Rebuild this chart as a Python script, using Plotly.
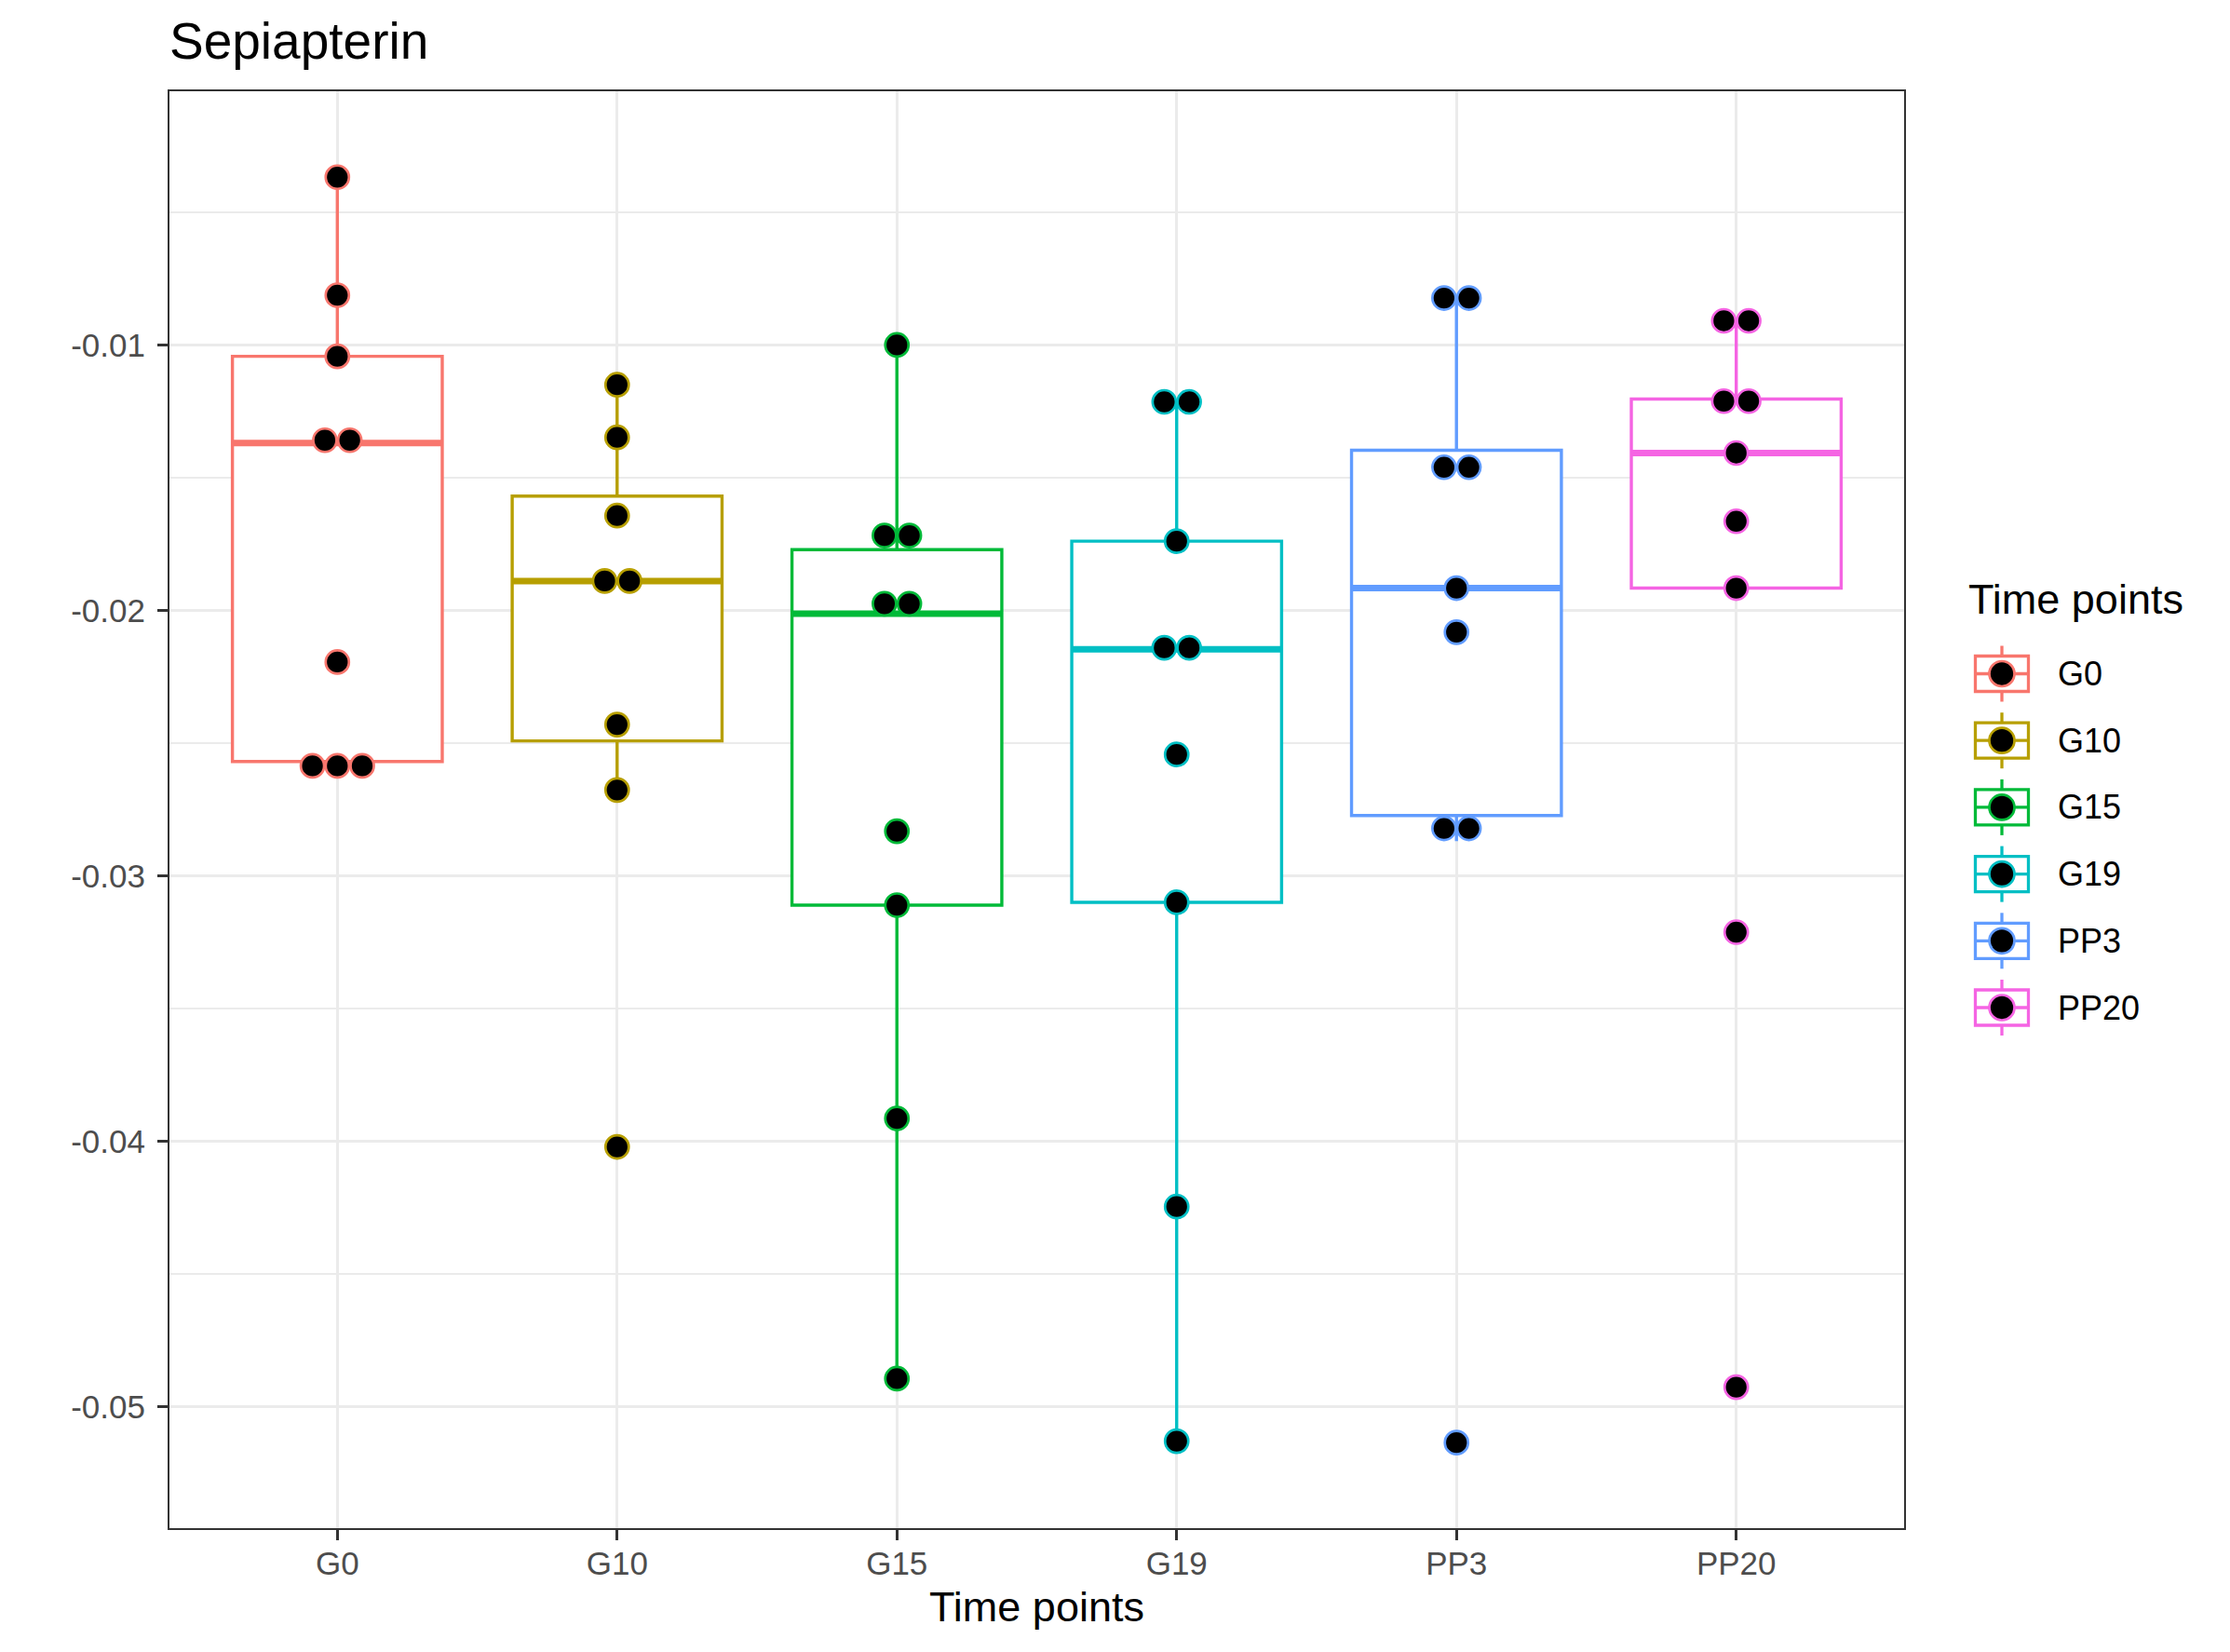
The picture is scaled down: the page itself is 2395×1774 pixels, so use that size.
import numpy as np
import plotly.graph_objects as go

# ---------------- data ----------------
categories = ["G0", "G10", "G15", "G19", "PP3", "PP20"]
colors = ["#F8766D", "#B79F00", "#00BA38", "#00BFC4", "#619CFF", "#F564E3"]

g0 = [-0.003681, -0.008126, -0.010428, -0.013481, -0.013695, -0.021941, -0.025690, -0.025850, -0.026011]
g10 = [-0.011499, -0.013481, -0.016426, -0.018782, -0.018996, -0.024297, -0.026761, -0.040201]
g15 = [-0.010000, -0.016640, -0.017711, -0.019371, -0.020121, -0.028313, -0.031098, -0.039130, -0.048929]
g19 = [-0.012088, -0.012195, -0.017390, -0.021352, -0.021459, -0.025422, -0.030991, -0.042450, -0.051285]
pp3 = [-0.008179, -0.008286, -0.013963, -0.015248, -0.019157, -0.020817, -0.027724, -0.028688, -0.051339]
pp20 = [-0.009036, -0.009143, -0.012035, -0.012195, -0.014070, -0.016640, -0.019157, -0.032115, -0.049251]
series = [g0, g10, g15, g19, pp3, pp20]

y_tickvals = [-0.05, -0.04, -0.03, -0.02, -0.01]
y_ticktext = ["-0.05", "-0.04", "-0.03", "-0.02", "-0.01"]

title_text = "Sepiapterin"
x_title = "Time points"
legend_title = "Time points"

# ---------------- layout geometry ----------------
OFF = 8  # page body margin offset
W, H = 2395 - OFF, 1774 - OFF
PW, PH = 1863, 1543
ML, MT = 182 - OFF, 98 - OFF
MR, MB = W - ML - PW, H - MT - PH
FONT = "Liberation Sans, Arial, Helvetica, sans-serif"

BOX_W = 0.75
DOT_STEP = 0.0889  # horizontal stacking step (x units) = dot diameter

all_vals = np.concatenate([np.array(s) for s in series])
binwidth = (all_vals.max() - all_vals.min()) / 30.0


def dotdensity(vals, bw):
    """ggplot2-style dotdensity binning: returns list of (center, count)."""
    v = np.sort(np.array(vals))
    bins = []
    cur = []
    binend = -np.inf
    for x in v:
        if x >= binend:
            if cur:
                bins.append(cur)
            cur = [x]
            binend = x + bw
        else:
            cur.append(x)
    if cur:
        bins.append(cur)
    return [((min(b) + max(b)) / 2.0, len(b)) for b in bins]


fig = go.Figure()

# boxes
for i, (cat, vals, col) in enumerate(zip(categories, series, colors)):
    pos = i + 1
    a = np.array(vals)
    q1, med, q3 = np.percentile(a, [25, 50, 75])
    iqr = q3 - q1
    lo = a[a >= q1 - 1.5 * iqr].min()
    hi = a[a <= q3 + 1.5 * iqr].max()
    fig.add_trace(go.Box(
        x=[pos], q1=[q1], median=[med], q3=[q3], lowerfence=[lo], upperfence=[hi],
        width=BOX_W, whiskerwidth=0, fillcolor="white",
        line=dict(color=col, width=3.4), boxpoints=False,
        hoverinfo="skip", showlegend=False, name=cat,
    ))

# thick medians
for i, (vals, col) in enumerate(zip(series, colors)):
    pos = i + 1
    med = float(np.percentile(np.array(vals), 50))
    fig.add_trace(go.Scatter(
        x=[pos - BOX_W / 2, pos + BOX_W / 2], y=[med, med], mode="lines",
        line=dict(color=col, width=7), hoverinfo="skip", showlegend=False,
    ))

# dots (dotplot, centred stacking)
for i, (vals, col) in enumerate(zip(series, colors)):
    pos = i + 1
    xs, ys = [], []
    for center, n in dotdensity(vals, binwidth):
        for k in range(n):
            xs.append(pos + (k - (n - 1) / 2.0) * DOT_STEP)
            ys.append(center)
    fig.add_trace(go.Scatter(
        x=xs, y=ys, mode="markers",
        marker=dict(size=25, color="black", line=dict(color=col, width=2.7)),
        hoverinfo="skip", showlegend=False,
    ))

# ---------------- custom ggplot-like legend ----------------
# positions given in screen pixels, converted to paper coordinates
def px_x(px):
    return (px - OFF - ML) / PW


def px_y(py):
    return (MT + PH - (py - OFF)) / PH


shapes = []
annotations = []
key_cx = 2150
key_w, key_h = 57, 38
whisk = 11
key_y0 = 723.5
key_dy = 71.7
for k, (cat, col) in enumerate(zip(categories, colors)):
    cy = key_y0 + k * key_dy
    shapes.append(dict(type="line", xref="paper", yref="paper",
                       x0=px_x(key_cx), x1=px_x(key_cx),
                       y0=px_y(cy - key_h / 2 - whisk), y1=px_y(cy + key_h / 2 + whisk),
                       line=dict(color=col, width=3.3)))
    shapes.append(dict(type="rect", xref="paper", yref="paper",
                       x0=px_x(key_cx - key_w / 2), x1=px_x(key_cx + key_w / 2),
                       y0=px_y(cy + key_h / 2), y1=px_y(cy - key_h / 2),
                       fillcolor="white", line=dict(color=col, width=3.3)))
    shapes.append(dict(type="line", xref="paper", yref="paper",
                       x0=px_x(key_cx - key_w / 2), x1=px_x(key_cx + key_w / 2),
                       y0=px_y(cy), y1=px_y(cy),
                       line=dict(color=col, width=3.3)))
    r = 13.5
    shapes.append(dict(type="circle", xref="paper", yref="paper",
                       x0=px_x(key_cx - r), x1=px_x(key_cx + r),
                       y0=px_y(cy + r), y1=px_y(cy - r),
                       fillcolor="black", line=dict(color=col, width=2.7)))
    annotations.append(dict(text=cat, xref="paper", yref="paper",
                            x=px_x(2208), y=px_y(cy), xanchor="left", yanchor="middle",
                            showarrow=False, font=dict(family=FONT, size=36, color="black")))

annotations.append(dict(text=legend_title, xref="paper", yref="paper",
                        x=px_x(2112), y=px_y(643), xanchor="left", yanchor="middle",
                        showarrow=False, font=dict(family=FONT, size=45, color="black")))

fig.update_layout(
    width=W, height=H,
    margin=dict(l=ML, r=MR, t=MT, b=MB, pad=0),
    paper_bgcolor="white", plot_bgcolor="white",
    font=dict(family=FONT, color="black"),
    title=dict(text=title_text, x=0, xref="paper", xanchor="left",
               y=1 - (44.0 - OFF) / H, yanchor="middle", yref="container",
               font=dict(family=FONT, size=55, color="black")),
    shapes=shapes, annotations=annotations,
    showlegend=False,
)

fig.update_xaxes(
    range=[0.4, 6.6], tickmode="array", tickvals=list(range(1, 7)), ticktext=categories,
    showgrid=True, gridcolor="#EBEBEB", gridwidth=3,
    showline=True, linecolor="#333333", linewidth=2, mirror=True,
    ticks="outside", ticklen=11, tickwidth=3, tickcolor="#333333",
    tickfont=dict(family=FONT, size=35, color="#4D4D4D"),
    ticklabelstandoff=-5,
    zeroline=False,
    title=dict(text=x_title, standoff=12, font=dict(family=FONT, size=45, color="black")),
)
fig.update_yaxes(
    range=[-0.05456, -0.000445], tickmode="array", tickvals=y_tickvals, ticktext=y_ticktext,
    showgrid=True, gridcolor="#EBEBEB", gridwidth=3,
    minor=dict(tickmode="array", tickvals=[-0.055, -0.045, -0.035, -0.025, -0.015, -0.005],
               showgrid=True, gridcolor="#EBEBEB", gridwidth=1.5, ticks=""),
    showline=True, linecolor="#333333", linewidth=2, mirror=True,
    ticks="outside", ticklen=11, tickwidth=3, tickcolor="#333333",
    tickfont=dict(family=FONT, size=35, color="#4D4D4D"),
    ticklabelstandoff=6,
    zeroline=False,
)

fig.write_html("out.html")
